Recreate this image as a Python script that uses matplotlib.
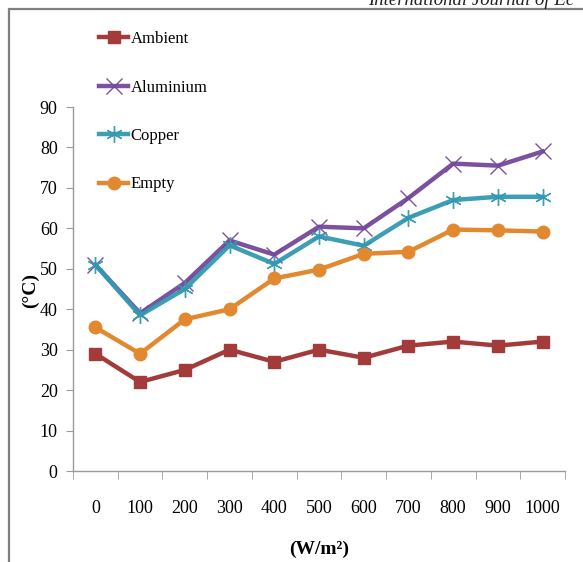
import matplotlib
matplotlib.use("Agg")
import matplotlib.pyplot as plt
from matplotlib.patches import Rectangle

categories = ["0", "100", "200", "300", "400", "500", "600", "700", "800", "900", "1000"]
ambient = [29, 22, 25, 30, 27, 30, 28, 31, 32, 31, 32]
aluminium = [51, 39, 46.5, 57, 53.5, 60.4, 60, 67.5, 76, 75.5, 79]
copper = [51, 38.5, 45, 55.8, 51.2, 58, 55.7, 62.6, 67, 67.8, 67.8]
empty = [35.5, 29, 37.5, 40, 47.6, 49.8, 53.7, 54.2, 59.7, 59.5, 59.2]
yticks = [0, 10, 20, 30, 40, 50, 60, 70, 80, 90]

plt.rcParams['font.family'] = ['Liberation Serif', 'DejaVu Serif']

fig = plt.figure(figsize=(5.83, 5.62), dpi=100)
W, H = 583, 562

# outer frame
fig.patches.append(Rectangle((9 / W, -0.1), 1.2, (H - 9) / H + 0.1, transform=fig.transFigure,
                             fill=False, edgecolor='#7f7f7f', linewidth=1.6))
fig.text(368 / W, 1 - 5 / H, "International Journal of Ec", fontsize=13.5, style='italic',
         ha='left', va='baseline', color='#222222')

ax = fig.add_axes([73 / W, 1 - 471 / H, (565 - 73) / W, (471 - 107) / H])
x = list(range(len(categories)))

series = [
    ("Ambient", ambient, '#a33b3b', 's', 9),
    ("Aluminium", aluminium, '#74489b', 'x', 11),
    ("Copper", copper, '#3399b0', (6, 2, 0), 12),
    ("Empty", empty, '#e2882e', 'o', 9),
]
for name, vals, col, mk, ms in series:
    if mk == 'x' or isinstance(mk, tuple):
        ax.plot(x, vals, color=col, linewidth=3.2, marker=mk, markersize=ms,
                markeredgewidth=1.0, markeredgecolor=col, alpha=0.95, label=name)
    else:
        ax.plot(x, vals, color=col, linewidth=3.2, marker=mk, markersize=ms,
                markeredgecolor=col, label=name)

ax.set_xlim(-0.5, len(categories) - 0.5)
ax.set_ylim(0, 90)
ax.set_yticks(yticks)
ax.set_yticklabels([str(v) for v in yticks], fontsize=13)
ax.set_xticks(x)
ax.set_xticklabels(categories, fontsize=13)
ax.set_xticks([i - 0.5 for i in range(len(categories) + 1)], minor=True)
ax.tick_params(axis='x', which='major', length=0, pad=21)
ax.tick_params(axis='x', which='minor', length=6, color='#9a9a9a', direction='out')
ax.tick_params(axis='y', which='major', length=5, color='#9a9a9a', direction='out', pad=6)
for s in ['top', 'right']:
    ax.spines[s].set_visible(False)
for s in ['left', 'bottom']:
    ax.spines[s].set_color('#9a9a9a')
    ax.spines[s].set_linewidth(1.0)

ax.set_xlabel("(W/m²)", fontsize=14, fontweight='bold', va='center')
ax.xaxis.set_label_coords(0.5, (471 - 549) / 364)
ax.set_ylabel("(°C)", fontsize=14, fontweight='bold', va='center')
ax.yaxis.set_label_coords((30 - 73) / 492, (471 - 290) / 364)

leg = ax.legend(loc='upper left', bbox_to_anchor=(99 / W, 1 - 31 / H), bbox_transform=fig.transFigure,
                frameon=False, fontsize=12, labelspacing=1.95, handlelength=1.75, handletextpad=0.15,
                borderaxespad=0, borderpad=0)

fig.savefig("out.png", dpi=100)
